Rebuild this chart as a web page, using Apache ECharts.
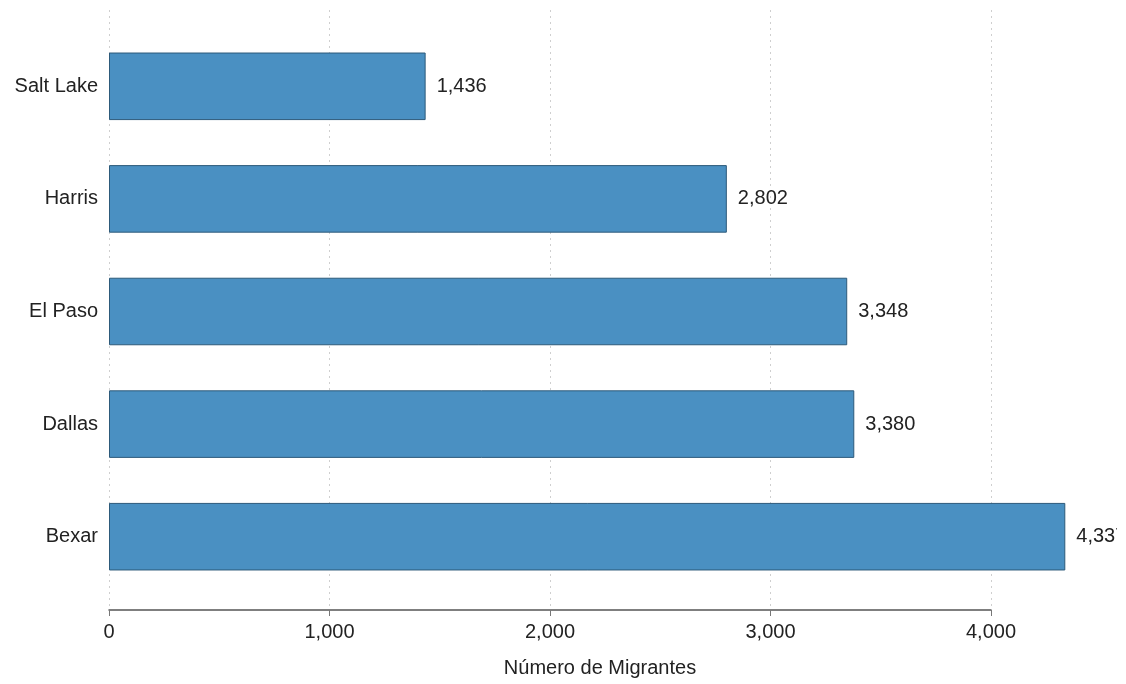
<!DOCTYPE html>
<html>
<head>
<meta charset="utf-8">
<script src="https://cdn.jsdelivr.net/npm/echarts@6/dist/echarts.min.js"></script>
<style>
html,body{margin:0;padding:0;background:#fff;}
#c{width:1117px;height:684px;}
</style>
</head>
<body>
<div id="c"></div>
<script>
// Data (top to bottom in the picture: Salt Lake ... Bexar)
const categories = ['Bexar', 'Dallas', 'El Paso', 'Harris', 'Salt Lake'];
const values = [4337, 3380, 3348, 2802, 1436];
const xTicks = [0, 1000, 2000, 3000, 4000];
const axisTitle = 'Número de Migrantes';

const fmt = v => Number(v).toLocaleString('en-US');
const font = 'Liberation Sans, Arial, Helvetica, sans-serif';
const fs = 20;

const chart = echarts.init(document.getElementById('c'), null, {renderer: 'canvas'});
chart.setOption({
  animation: false,
  backgroundColor: '#fff',
  grid: [
    {left: 109, width: 882, top: 30, height: 563, containLabel: false},
    {left: 109, width: 882, top: 10, height: 600, containLabel: false}
  ],
  xAxis: [
    {gridIndex: 0, type: 'value', min: xTicks[0], max: xTicks[xTicks.length - 1], interval: 1000, show: false},
    {
      gridIndex: 1, type: 'value', min: xTicks[0], max: xTicks[xTicks.length - 1], interval: 1000,
      axisLine: {show: true, lineStyle: {color: '#555', width: 1.5}},
      axisTick: {show: true, length: 6, lineStyle: {color: '#777', width: 1}},
      axisLabel: {color: '#222', fontSize: fs, fontFamily: font, margin: 12, formatter: fmt},
      splitLine: {show: true, lineStyle: {color: '#cfcfcf', width: 1, type: [2, 4]}},
      name: axisTitle,
      nameLocation: 'middle',
      nameGap: 48,
      nameTextStyle: {color: '#222', fontSize: fs, fontFamily: font, padding: [0, 0, 0, 100]}
    }
  ],
  yAxis: [
    {
      gridIndex: 0, type: 'category', data: categories,
      axisLine: {show: false}, axisTick: {show: false},
      axisLabel: {color: '#222', fontSize: fs, fontFamily: font, margin: 11},
      splitLine: {show: false}
    },
    {gridIndex: 1, type: 'value', show: false, min: 0, max: 1}
  ],
  series: [{
    type: 'bar',
    xAxisIndex: 0, yAxisIndex: 0,
    data: values,
    clip: false,
    barCategoryGap: '40%',
    itemStyle: {color: '#4a90c2', borderColor: '#2d5a7a', borderWidth: 1},
    label: {
      show: true, position: 'right', distance: 11,
      color: '#222', fontSize: fs, fontFamily: font,
      formatter: p => fmt(p.value)
    },
    z: 3
  }]
});
</script>
</body>
</html>
